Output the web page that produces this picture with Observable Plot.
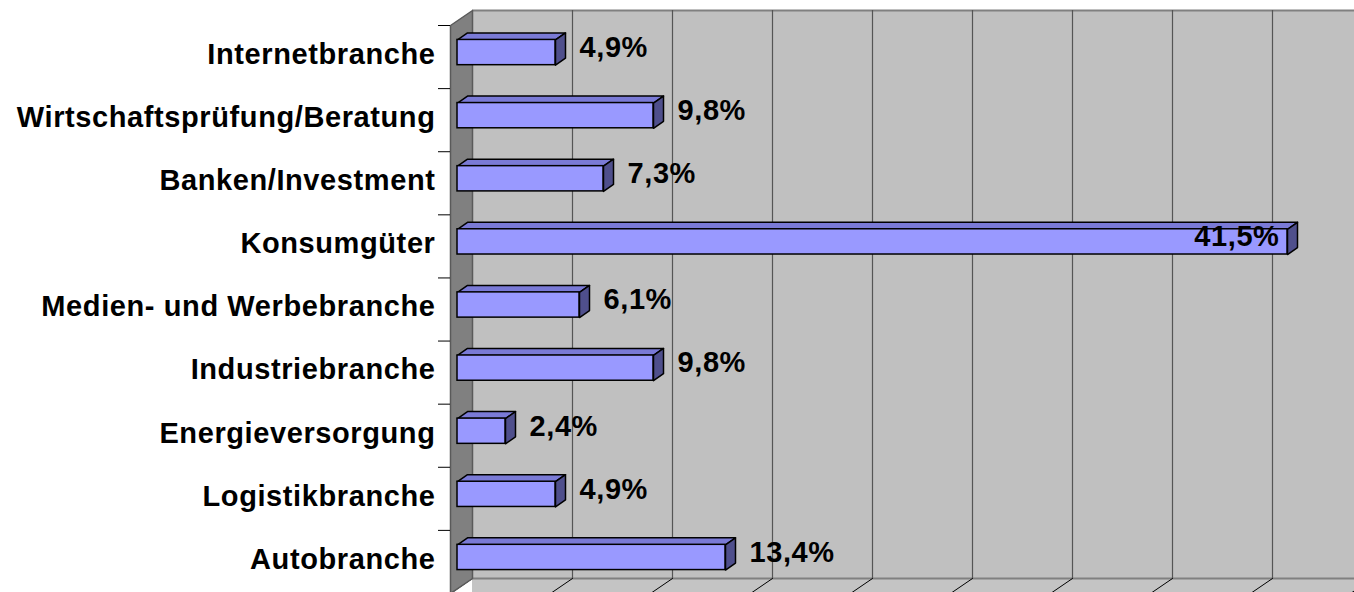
<!DOCTYPE html>
<html>
<head>
<meta charset="utf-8">
<script src="https://cdn.jsdelivr.net/npm/d3@7"></script>
<script src="https://cdn.jsdelivr.net/npm/@observablehq/plot@0.6"></script>
<style>
  html, body { margin: 0; padding: 0; background: #ffffff; overflow: hidden; }
  #chart svg { display: block; }
</style>
</head>
<body>
<div id="chart"></div>
<script>
// ---- data (top to bottom) ----
const categories = [
  "Internetbranche",
  "Wirtschaftsprüfung/Beratung",
  "Banken/Investment",
  "Konsumgüter",
  "Medien- und Werbebranche",
  "Industriebranche",
  "Energieversorgung",
  "Logistikbranche",
  "Autobranche"
];
const values = [4.9, 9.8, 7.3, 41.5, 6.1, 9.8, 2.4, 4.9, 13.4];
const gridTicks = [5, 10, 15, 20, 25, 30, 35, 40, 45];

// ---- layout ----
const W = 1354, H = 592;
const mL = 457, mR = 0, mT = 20.5, mB = 3.5;
const xMax = 44.85;
const n = categories.length;
const KX = (W - mL - mR) / xMax;   // px per unit of x
const KY = (H - mT - mB) / n;      // px per category band
const FRONT = [-7, 4.5];   // front plane offset from bar plane (px)
const BACK = [15, -10.5];  // back wall offset from bar plane (px)
const DEPTH = [10, -7];    // bar depth (px)
const BAR = 0.4;           // bar thickness as share of band

const off = (x, y, o) => ({x: x + o[0] / KX, y: y + o[1] / KY});

const rows = categories.map((c, i) => ({c, i, v: values[i], y0: i + 0.5 - BAR / 2, y1: i + 0.5 + BAR / 2}));

// polygons for bar top and right faces
const topFaces = [], rightFaces = [];
rows.forEach(r => {
  topFaces.push({id: r.i, ...off(0, r.y0, [0, 0])});
  topFaces.push({id: r.i, ...off(r.v, r.y0, [0, 0])});
  topFaces.push({id: r.i, ...off(r.v, r.y0, DEPTH)});
  topFaces.push({id: r.i, ...off(0, r.y0, DEPTH)});
  rightFaces.push({id: r.i, ...off(r.v, r.y0, [0, 0])});
  rightFaces.push({id: r.i, ...off(r.v, r.y1, [0, 0])});
  rightFaces.push({id: r.i, ...off(r.v, r.y1, DEPTH)});
  rightFaces.push({id: r.i, ...off(r.v, r.y0, DEPTH)});
});

const sideWall = [off(0, 0, FRONT), off(0, 0, BACK), off(0, n, BACK), off(0, n, FRONT)];

const floorDiag = [];
[0, ...gridTicks].forEach((t, k) => {
  floorDiag.push({id: k, ...off(t, n, BACK)});
  floorDiag.push({id: k, ...off(t, n, FRONT)});
});

const fmt = v => v.toFixed(1).replace(".", ",") + "%";
const vmax = d3.max(values);
const txt = {fontSize: 29, fontWeight: "bold", fill: "#000000"};

const chart = Plot.plot({
  width: W,
  height: H,
  marginLeft: mL,
  marginRight: mR,
  marginTop: mT,
  marginBottom: mB,
  x: {domain: [0, xMax], axis: null},
  y: {domain: [0, n], reverse: true, axis: null},
  style: {
    background: "#ffffff",
    fontFamily: "'Liberation Sans', Arial, sans-serif",
    letterSpacing: "0.6px",
    color: "#000000"
  },
  marks: [
    // floor
    Plot.rect([0], {x1: 0, x2: 48, y1: n, y2: n + 0.5, dx: BACK[0], dy: BACK[1], fill: "#c4c4c4"}),
    // back wall
    Plot.rect([0], {x1: 0, x2: 48, y1: 0, y2: n, dx: BACK[0], dy: BACK[1], fill: "#c0c0c0"}),
    Plot.ruleY([0], {x1: 0, x2: 48, dx: BACK[0], dy: BACK[1], stroke: "#808080", strokeWidth: 2}),
    Plot.ruleY([n], {x1: 0, x2: 48, dx: BACK[0], dy: BACK[1], stroke: "#808080", strokeWidth: 2}),
    // gridlines on back wall
    Plot.ruleX(gridTicks, {y1: 0, y2: n, dx: BACK[0], dy: BACK[1], stroke: "#555555", strokeWidth: 1.2}),
    // floor diagonals
    Plot.line(floorDiag, {x: "x", y: "y", z: "id", stroke: "#000000", strokeWidth: 1}),
    // side wall
    Plot.line(sideWall, {x: "x", y: "y", fill: "#808080", stroke: "#5a5a5a", strokeWidth: 1.5, curve: "linear-closed"}),
    // category tick marks on front edge
    Plot.ruleY(d3.range(n + 1), {x1: -12 / KX, x2: 0, dx: FRONT[0], dy: FRONT[1], stroke: "#000000", strokeWidth: 1}),
    // bars: top, right, front faces
    Plot.line(topFaces, {x: "x", y: "y", z: "id", fill: "#7a7ad6", stroke: "#000000", strokeWidth: 1.5, strokeLinejoin: "round", curve: "linear-closed"}),
    Plot.line(rightFaces, {x: "x", y: "y", z: "id", fill: "#4f4f8c", stroke: "#000000", strokeWidth: 1.5, strokeLinejoin: "round", curve: "linear-closed"}),
    Plot.rect(rows, {x1: 0, x2: "v", y1: "y0", y2: "y1", fill: "#9999ff", stroke: "#000000", strokeWidth: 1.5}),
    // category labels
    Plot.text(rows, {x: 0, y: d => d.i + 0.5, text: "c", textAnchor: "end", dx: -22, dy: 2, ...txt}),
    // value labels (outside the bar, or inside for the longest one)
    Plot.text(rows.filter(d => d.v !== vmax), {x: "v", y: d => d.i + 0.5, text: d => fmt(d.v), textAnchor: "start", dx: 24, dy: -5, ...txt}),
    Plot.text(rows.filter(d => d.v === vmax), {x: "v", y: d => d.i + 0.5, text: d => fmt(d.v), textAnchor: "end", dx: -8, dy: -5, ...txt})
  ]
});
document.getElementById("chart").appendChild(chart);
</script>
</body>
</html>
